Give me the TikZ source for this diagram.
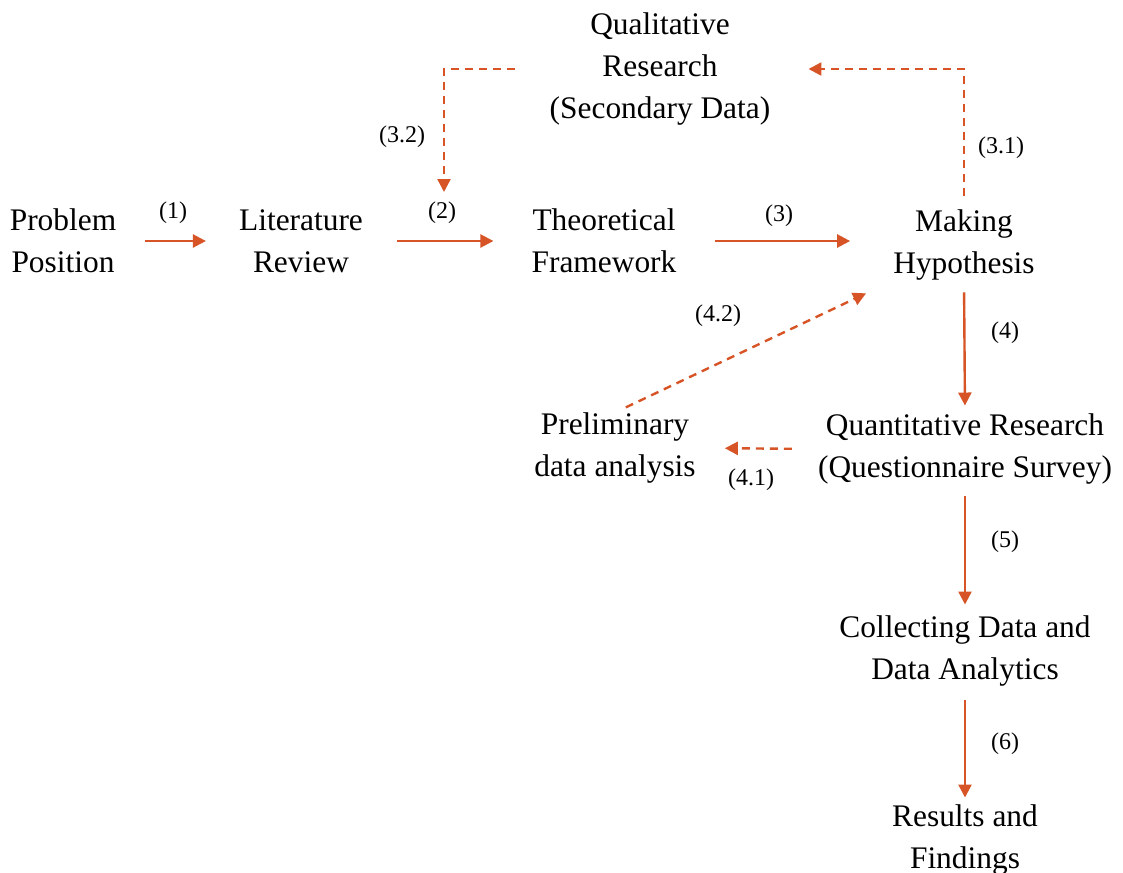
\documentclass[tikz,border=0pt]{standalone}
\usepackage{fontspec}
\setmainfont{Liberation Serif}
\usetikzlibrary{arrows.meta}
\definecolor{arr}{RGB}{214,84,38}
\tikzset{
  lbl/.style={inner sep=0pt, align=center, font=\fontsize{31.4}{42}\selectfont},
  num/.style={inner sep=0pt, font=\fontsize{24}{28}\selectfont},
  conn/.style={draw=arr, line width=2.4pt, -{Triangle[length=13pt,width=13pt]}},
  dconn/.style={conn, dash pattern=on 8pt off 6pt}
}
\begin{document}
\begin{tikzpicture}[x=1pt,y=-1pt]
\useasboundingbox (0,0) rectangle (1123,872);
\node[lbl] (pp) at (63,241) {Problem\\Position};
\node[lbl] (lr) at (301,241) {Literature\\Review};
\node[lbl] (tf) at (604,241) {Theoretical\\Framework};
\node[lbl] (mh) at (964,245) {Making\\Hypothesis};
\node[lbl] (qr) at (660,69) {Qualitative\\Research\\(Secondary Data)};
\node[lbl] (pda) at (615,448) {Preliminary\\data analysis};
\node[lbl] (qqr) at (965,449) {Quantitative Research\\(Questionnaire Survey)};
\node[lbl] (cd) at (965,651) {Collecting Data and\\Data Analytics};
\node[lbl] (rf) at (965,840) {Results and\\Findings};
\coordinate (c32) at (444,192);

\node[num] (l1) at (173,213) {(1)};
\node[num] (l2) at (442,213) {(2)};
\node[num] (l3) at (779,216) {(3)};
\node[num] (l31) at (1001,148) {(3.1)};
\node[num] (l32) at (402,137) {(3.2)};
\node[num] (l4) at (1005,333) {(4)};
\node[num] (l41) at (751,480) {(4.1)};
\node[num] (l42) at (718,316) {(4.2)};
\node[num] (l5) at (1005,542) {(5)};
\node[num] (l6) at (1005,744) {(6)};

\draw[conn, shorten <=29pt, shorten >=33pt] (pp.east) -- (lr.west);
\draw[conn, shorten <=34pt, shorten >=38pt] (lr.east) -- (tf.west);
\draw[conn, shorten <=38pt, shorten >=43pt] (tf.east) -- (mh.west |- tf.east);
\draw[dconn, shorten <=14pt, shorten >=38pt] (mh.north) |- (qr.east);
\draw[dconn, shorten <=35pt] (qr.west) -| (c32);
\draw[conn, shorten <=12pt, shorten >=8pt] (mh.south) -- (qqr.north);
\draw[dconn, shorten <=26pt, shorten >=29pt] (qqr.west) -- (pda.east);
\draw[dconn, shorten <=12pt, shorten >=30pt] (pda.north) -- (mh.south west);
\draw[conn, shorten <=12pt, shorten >=11pt] (qqr.south) -- (cd.north);
\draw[conn, shorten <=14pt, shorten >=7pt] (cd.south) -- (rf.north);
\end{tikzpicture}
\end{document}
